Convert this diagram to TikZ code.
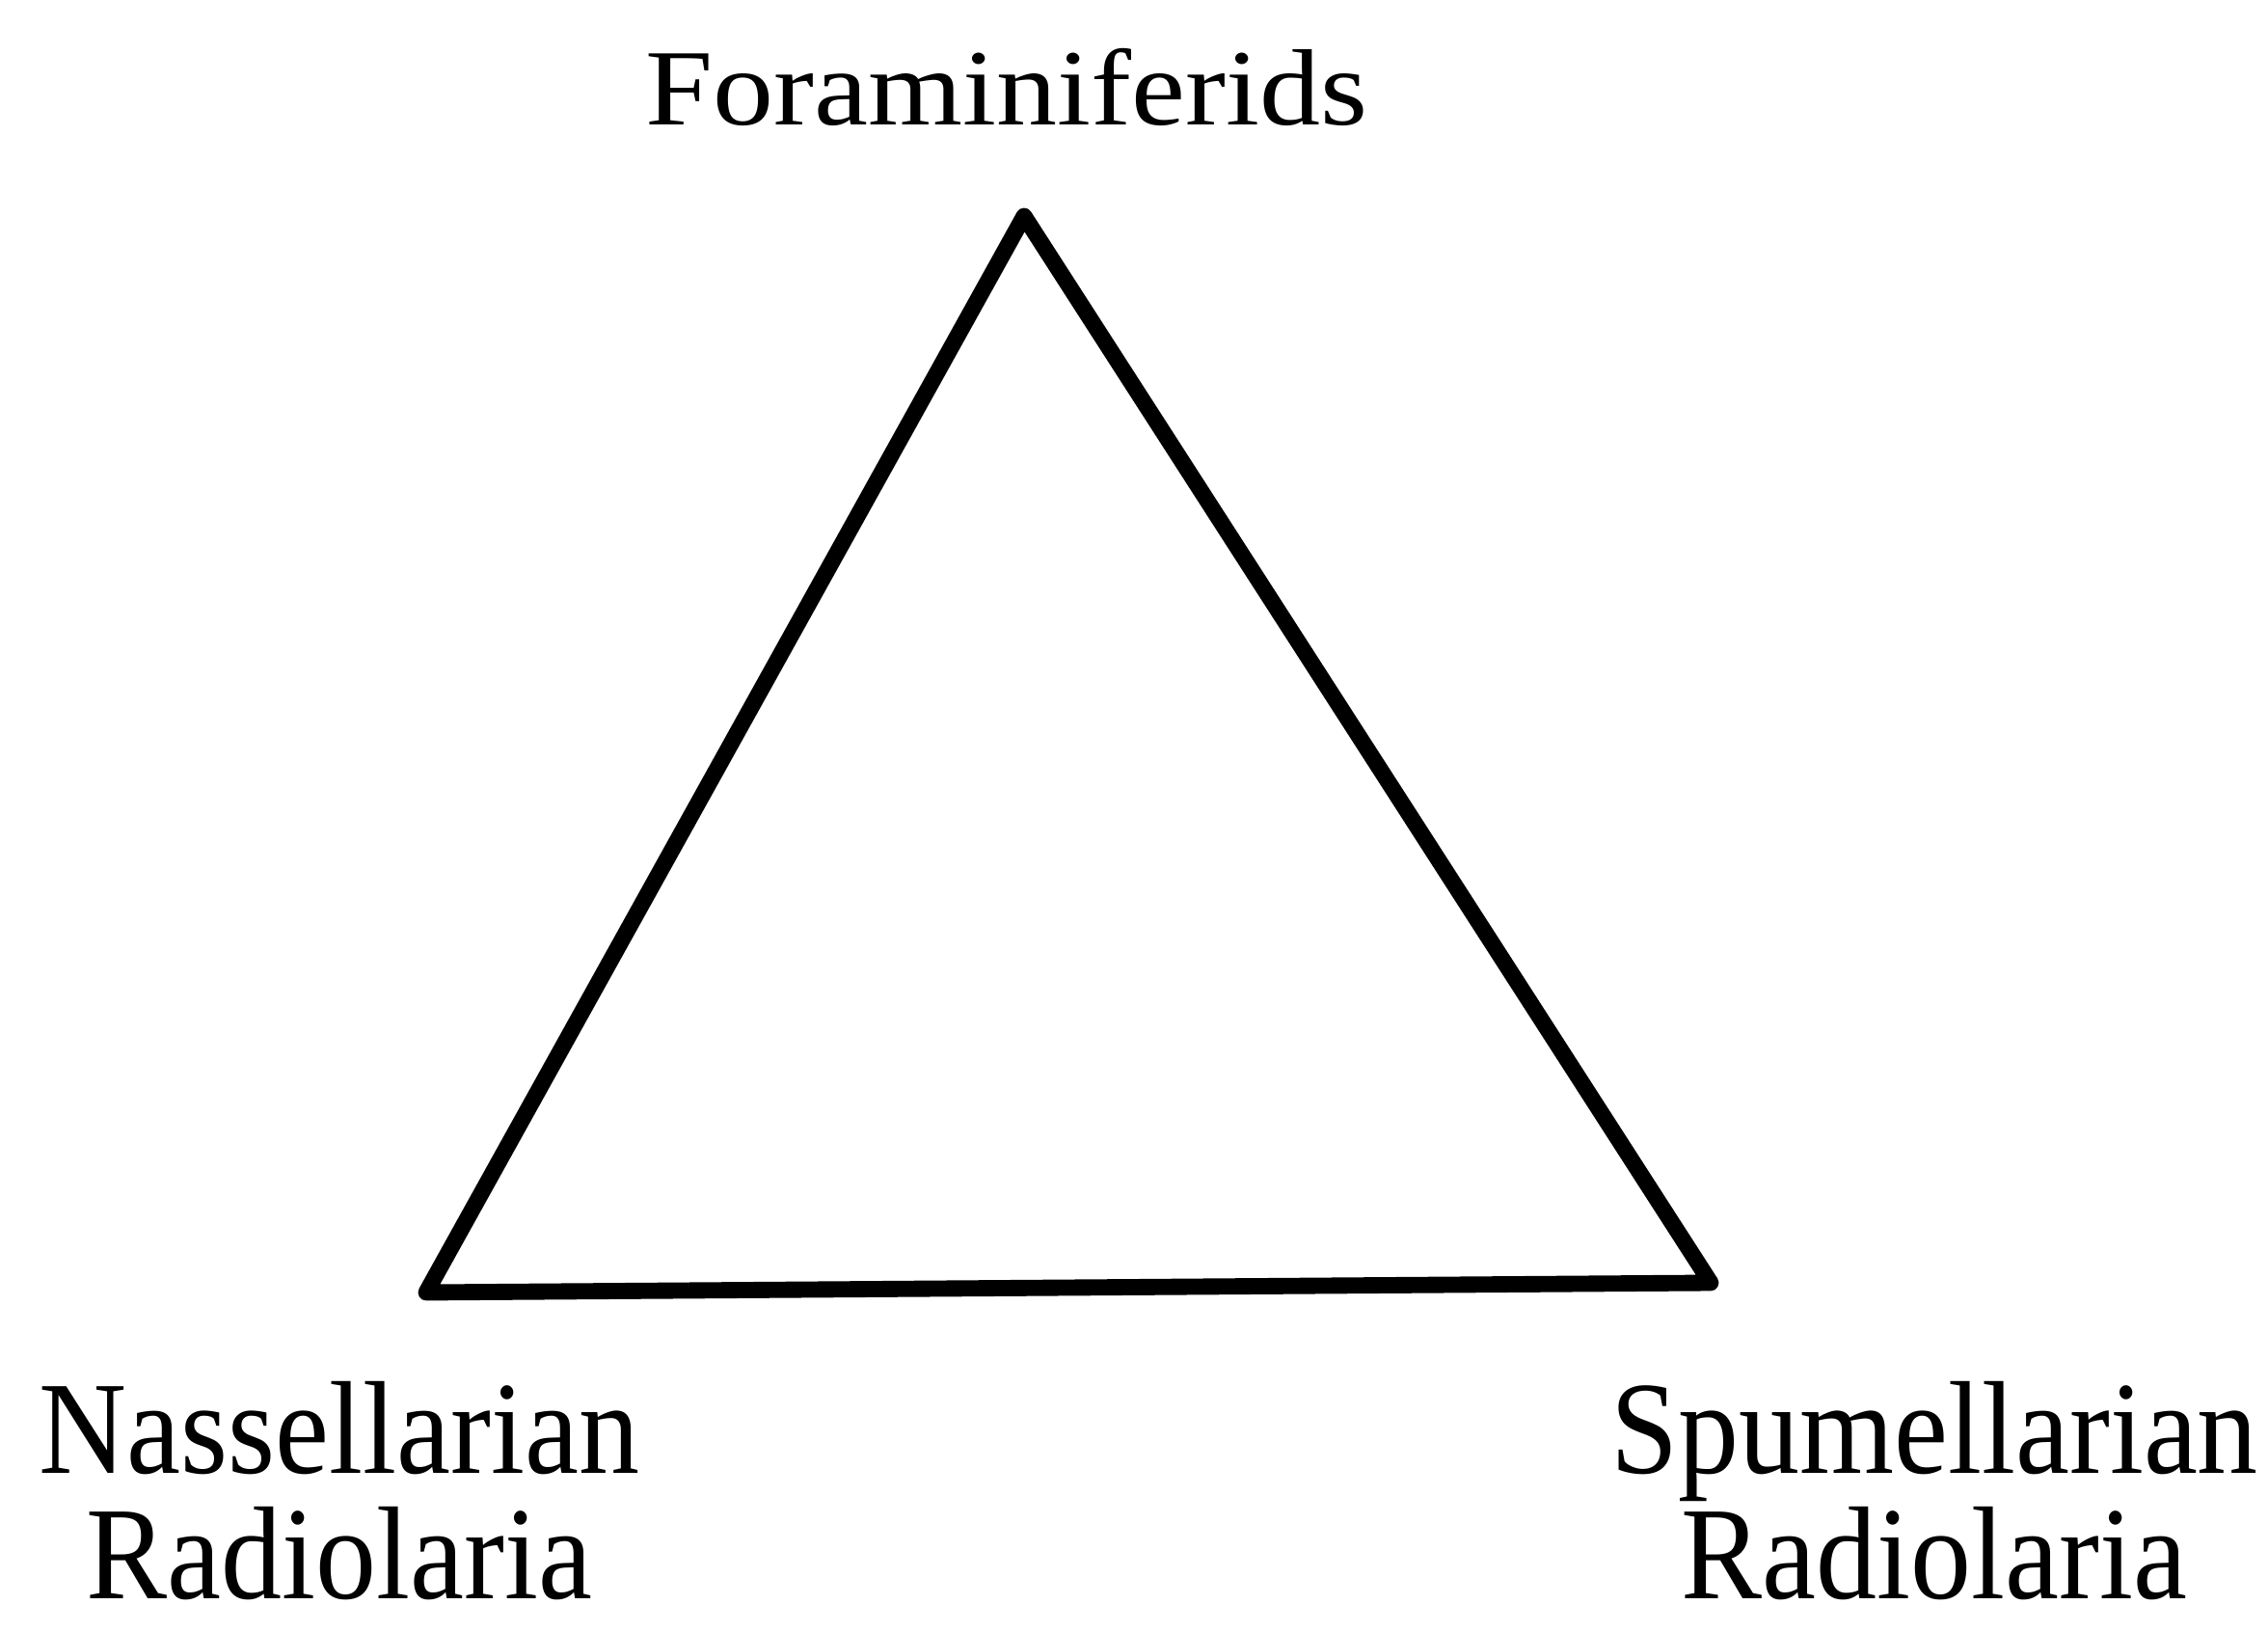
\documentclass[tikz,border=0pt]{standalone}
\usepackage{fontspec}
\setmainfont{Liberation Serif}
\begin{document}
\begin{tikzpicture}[
    taxon/.style = {anchor=base, inner sep=0pt, xscale=1.12, font=\fontsize{32}{36}\selectfont},
    tall/.style = {taxon, anchor=south, align=center, yscale=1.22, font=\fontsize{32}{30.3}\selectfont},
    edge/.style = {line width=4.8pt, line join=round}
]
    % Page frame
    \useasboundingbox (0,0) rectangle (23.52,16.92);

    % Corners of the triangle
    \coordinate (fora) at (10.62,14.68);
    \coordinate (nass) at (4.42,3.52);
    \coordinate (spum) at (17.74,3.62);

    % Triangle
    \draw[edge] (fora) -- (nass) -- (spum) -- cycle;

    % Labels
    \node[taxon] (foralabel) at (10.44,15.62) {Foraminiferids};
    \node[tall] (nasslabel) at (3.52,0.32) {Nassellarian\\Radiolaria};
    \node[tall] (spumlabel) at (20.06,0.32) {Spumellarian\\Radiolaria};
\end{tikzpicture}
\end{document}
